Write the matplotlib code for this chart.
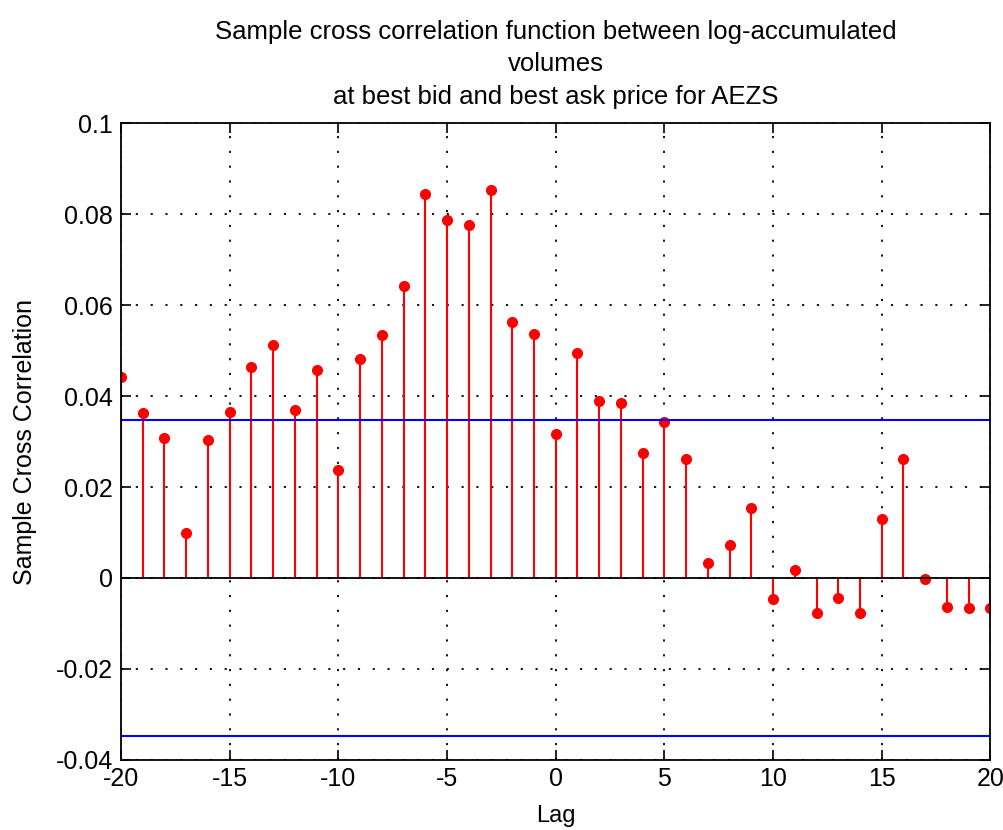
import numpy as np
import matplotlib.pyplot as plt

# Lags and sample cross correlation values
lags = np.arange(-20, 21)
xcf = [0.0442, 0.0363, 0.0308, 0.0099, 0.0304, 0.0365, 0.0464, 0.0513, 0.0370, 0.0458,
       0.0238, 0.0482, 0.0535, 0.0643, 0.0845, 0.0788, 0.0777, 0.0854, 0.0564, 0.0537,
       0.0317, 0.0495, 0.0390, 0.0385, 0.0275, 0.0343, 0.0262, 0.0033, 0.0073, 0.0154,
       -0.0046, 0.0018, -0.0077, -0.0044, -0.0077, 0.0130, 0.0262, -0.0002, -0.0064, -0.0066,
       -0.0066]
bound = 0.0348

plt.rcParams['font.family'] = ['Liberation Sans', 'DejaVu Sans']
plt.rcParams['axes.unicode_minus'] = False

fig = plt.figure(figsize=(10.04, 8.30), dpi=100)
ax = fig.add_axes([0.1205, 0.0845, 0.866, 0.767])

markers, stems, base = ax.stem(lags, xcf, linefmt='r-', markerfmt='ro', basefmt='k-')
plt.setp(stems, linewidth=1.5)
plt.setp(markers, markersize=7)
plt.setp(base, linewidth=1.3)

ax.axhline(bound, color='b', linewidth=1.5)
ax.axhline(-bound, color='b', linewidth=1.5)

ax.set_xlim(-20, 20)
ax.set_ylim(-0.04, 0.1)
ax.set_xticks(np.arange(-20, 21, 5))
ax.set_yticks(np.arange(-0.04, 0.1001, 0.02))
ax.set_yticklabels(['-0.04', '-0.02', '0', '0.02', '0.04', '0.06', '0.08', '0.1'])
ax.grid(True, color='k', linestyle=(0, (1.2, 7)), linewidth=1.3)
ax.tick_params(direction='in', top=True, right=True, length=7, width=1.2, labelsize=18)
ax.tick_params(axis='y', pad=6)
ax.tick_params(axis='x', pad=5)
for s in ax.spines.values():
    s.set_linewidth(1.3)

ax.set_xlabel('Lag', fontsize=17, labelpad=10)
ax.set_ylabel('Sample Cross Correlation', fontsize=18, labelpad=13)
ax.set_title('Sample cross correlation function between log-accumulated\nvolumes\nat best bid and best ask price for AEZS',
             fontsize=18.5, linespacing=1.45, pad=14)

fig.savefig('out.png', dpi=100)
